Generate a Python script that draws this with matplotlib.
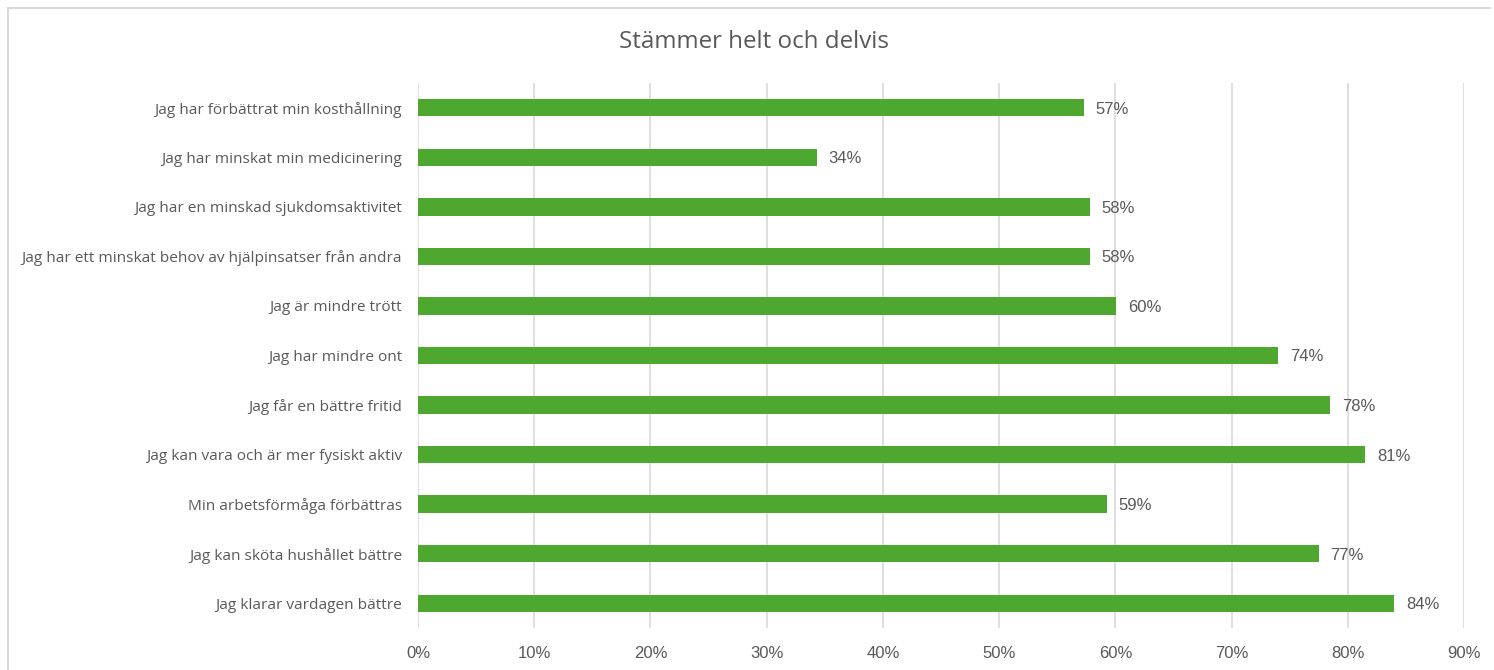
import matplotlib.pyplot as plt
from matplotlib.lines import Line2D

categories = [
    "Jag har förbättrat min kosthållning",
    "Jag har minskat min medicinering",
    "Jag har en minskad sjukdomsaktivitet",
    "Jag har ett minskat behov av hjälpinsatser från andra",
    "Jag är mindre trött",
    "Jag har mindre ont",
    "Jag får en bättre fritid",
    "Jag kan vara och är mer fysiskt aktiv",
    "Min arbetsförmåga förbättras",
    "Jag kan sköta hushållet bättre",
    "Jag klarar vardagen bättre",
]
values = [57.3, 34.3, 57.8, 57.8, 60.1, 74.0, 78.5, 81.5, 59.3, 77.5, 84.0]
value_labels = ["57%", "34%", "58%", "58%", "60%", "74%", "78%", "81%", "59%", "77%", "84%"]
xticks = list(range(0, 100, 10))

W, H = 1494, 670
fig = plt.figure(figsize=(W / 100, H / 100), dpi=100)
ax = fig.add_axes([418 / W, 1 - 628 / H, (1464 - 418) / W, (628 - 83) / H])

# chart frame (only top and left edges visible in the crop)
fig.lines.append(Line2D([8 / W, 1490 / W], [1 - 8 / H, 1 - 8 / H], transform=fig.transFigure,
                        color="#D9D9D9", linewidth=1.5))
fig.lines.append(Line2D([8 / W, 8 / W], [1 - 8 / H, 0], transform=fig.transFigure,
                        color="#D9D9D9", linewidth=1.5))

ypos = list(range(len(categories)))
ax.barh(ypos, values, height=0.35, color="#4EA72E", zorder=3)
for y, v, lab in zip(ypos, values, value_labels):
    ax.text(v + 1.0, y + 0.03, lab, va="center", ha="left", fontsize=12,
            color="#595959", family="Liberation Sans")

ax.set_xlim(0, 90)
ax.set_ylim(len(categories) - 0.5, -0.5)
ax.set_xticks(xticks)
ax.set_xticklabels([f"{t}%" for t in xticks], family="Liberation Sans", fontsize=12, color="#595959")
ax.set_yticks(ypos)
ax.set_yticklabels(categories, family="Open Sans", fontsize=11.1, color="#595959")
ax.tick_params(axis="both", length=0)
ax.tick_params(axis="y", pad=11.5)
ax.tick_params(axis="x", pad=13)
ax.grid(axis="x", color="#D9D9D9", linewidth=1.2, zorder=0)
for s in ax.spines.values():
    s.set_visible(False)

fig.text(754 / W, 1 - 42 / H, "Stämmer helt och delvis", ha="center", va="center",
         fontsize=17.4, color="#595959", family="Open Sans")

plt.savefig("out.png", dpi=100)
